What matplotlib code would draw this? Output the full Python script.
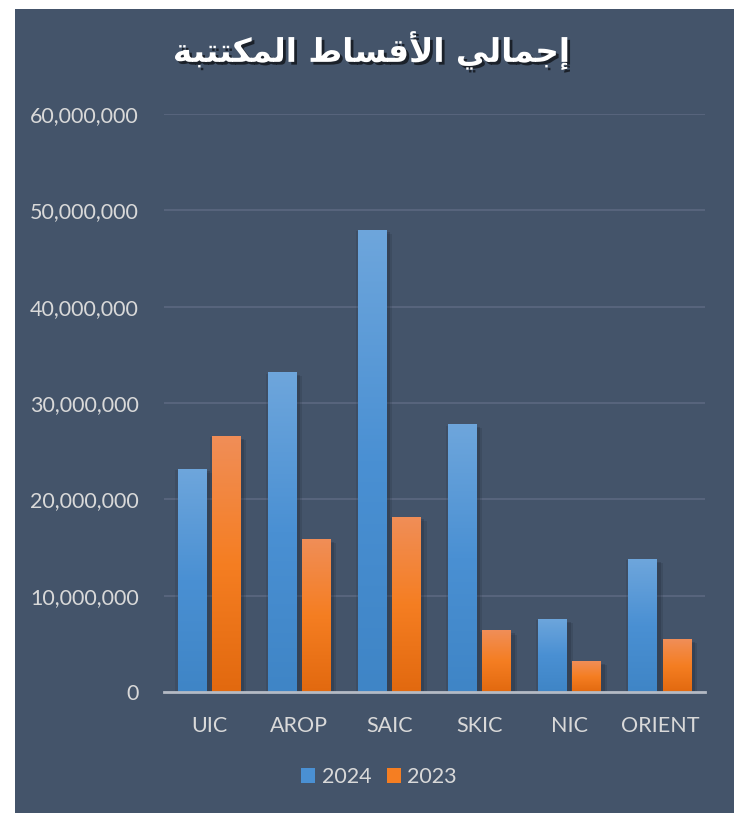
import matplotlib
matplotlib.use("Agg")
import matplotlib.pyplot as plt
import numpy as np
from matplotlib.patches import Rectangle
from matplotlib.colors import LinearSegmentedColormap
import matplotlib.patheffects as pe

categories = ["UIC", "AROP", "SAIC", "SKIC", "NIC", "ORIENT"]
series_names = ["2024", "2023"]
values_2024 = [23200000, 33200000, 48000000, 27800000, 7600000, 13800000]
values_2023 = [26600000, 15900000, 18200000, 6400000, 3200000, 5500000]
yticks = [0, 10000000, 20000000, 30000000, 40000000, 50000000, 60000000]

# Arabic title shaped with presentation forms, visual (LTR) order
w1 = "\uFEF2\uFEDF\uFE8E\uFEE4\uFE9F\uFE87"            # إجمالي
w2 = "\uFEC1\uFE8E\uFEB4\uFED7\uFEF7\uFE8D"            # الأقساط
w3 = "\uFE94\uFE92\uFE98\uFE98\uFEDC\uFEE4\uFEDF\uFE8D"  # المكتتبة
title_text = w3 + " " + w2 + " " + w1

BG = "#44546A"
TXT = "#D9D9D9"
W, H = 739, 815
fig = plt.figure(figsize=(W / 100, H / 100), dpi=100, facecolor="white")
fig.patches.append(Rectangle((15 / W, 1 - 813 / H), (734 - 15) / W, (813 - 9) / H,
                             transform=fig.transFigure, facecolor=BG, edgecolor="none", zorder=-5))

ax = fig.add_axes([164 / W, 1 - 692 / H, (705 - 164) / W, (692 - 114) / H])
ax.set_zorder(2)
ax.set_facecolor("none")

x = np.arange(len(categories))
bw = 0.32
off = 0.19
blue_cmap = LinearSegmentedColormap.from_list("b", ["#3F85C6", "#4A90D3", "#6EA6DC"])
orange_cmap = LinearSegmentedColormap.from_list("o", ["#E2690F", "#F57E22", "#F08E58"])
grad = np.linspace(0, 1, 256).reshape(-1, 1)

def draw(xs, vals, cmap):
    bars = ax.bar(xs, vals, width=bw, color=BG, edgecolor="none", zorder=3)
    for b in bars:
        b.set_path_effects([
            pe.SimplePatchShadow(offset=(4, -3), shadow_rgbFace="#1F2838", alpha=0.18),
            pe.SimplePatchShadow(offset=(2.5, -2), shadow_rgbFace="#1F2838", alpha=0.25),
            pe.SimplePatchShadow(offset=(-1.5, -1), shadow_rgbFace="#1F2838", alpha=0.15),
            pe.Normal()])
        bx, by = b.get_x(), b.get_y()
        bwid, bh = b.get_width(), b.get_height()
        im = ax.imshow(grad, extent=(bx, bx + bwid, by, by + bh), origin="lower",
                       cmap=cmap, aspect="auto", zorder=4)
        im.set_clip_path(b)
    return bars

draw(x - off, values_2024, blue_cmap)
draw(x + off, values_2023, orange_cmap)
ax.set_xlim(-0.5, len(categories) - 0.5)
ax.set_ylim(0, 60000000)

ax.set_yticks(yticks)
ax.set_yticklabels([f"{v:,}" for v in yticks])
ax.set_xticks(x)
ax.set_xticklabels(categories)
ax.grid(axis="y", color="#5B6880", linewidth=1.2, zorder=1)
ax.set_axisbelow(True)
for s in ["top", "right", "left"]:
    ax.spines[s].set_visible(False)
ax.spines["bottom"].set_color("#B4BAC4")
ax.spines["bottom"].set_linewidth(2)
ax.spines["bottom"].set_zorder(5)
ax.tick_params(axis="both", length=0, colors=TXT, labelsize=15.5)
ax.tick_params(axis="y", pad=18)
ax.tick_params(axis="x", pad=17)
for lab in ax.get_xticklabels() + ax.get_yticklabels():
    lab.set_fontfamily("Lato")

fig.text(372 / W, 1 - 50 / H, title_text, ha="center", va="center", fontsize=23.5,
         fontweight="bold", family="DejaVu Sans", color="white",
         path_effects=[pe.withSimplePatchShadow(offset=(2, -2), shadow_rgbFace="black", alpha=0.6)])

# legend
handles = [Rectangle((0, 0), 1, 1, facecolor="#4A90D3"), Rectangle((0, 0), 1, 1, facecolor="#F57E22")]
leg = fig.legend(handles, series_names, loc="center", bbox_to_anchor=(379 / W, 1 - 777 / H), ncol=2,
                 frameon=False, handlelength=0.65, handleheight=0.65, handletextpad=0.3,
                 columnspacing=0.7, prop={"family": "Lato", "size": 15.5})
for t in leg.get_texts():
    t.set_color(TXT)

fig.savefig("out.png", dpi=100, facecolor="white")
